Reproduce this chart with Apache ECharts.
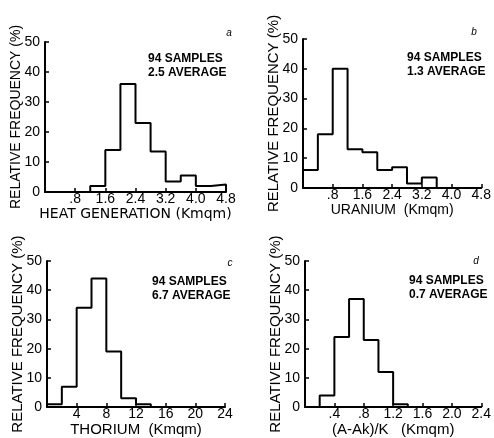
<!DOCTYPE html>
<html>
<head>
<meta charset="utf-8">
<script src="https://cdn.jsdelivr.net/npm/echarts@6/dist/echarts.min.js"></script>
<style>
  html, body { margin: 0; padding: 0; background: #fff; }
  #chart { width: 494px; height: 438px; }
</style>
</head>
<body>
<div id="chart"></div>
<script>
// bin edges and relative frequencies (%) for each panel
const heatEdges = [1.2, 1.6, 2.0, 2.4, 2.8, 3.2, 3.6, 4.0, 4.4, 4.8]
const heatFreq = [2, 14, 36, 23, 13.5, 3.5, 5.5, 2, 2.5]

const uraniumEdges = [0, 0.4, 0.8, 1.2, 1.6, 2.0, 2.4, 2.8, 3.2, 3.6]
const uraniumFreq = [6, 18, 40, 13, 12, 6, 7, 1.5, 3.5]

const thoriumEdges = [0, 2, 4, 6, 8, 10, 12, 14]
const thoriumFreq = [1, 7, 34, 44, 19, 3, 1]

const ratioEdges = [0.2, 0.4, 0.6, 0.8, 1.0, 1.2, 1.4]
const ratioFreq = [4, 24, 37, 23, 12, 1]

// tick labels (the 0 tick carries no label)
const heatTicks = ['', '.8', '1.6', '2.4', '3.2', '4.0', '4.8']
const uraniumTicks = ['', '.8', '1.6', '2.4', '3.2', '4.0', '4.8']
const thoriumTicks = ['', '4', '8', '12', '16', '20', '24']
const ratioTicks = ['', '.4', '.8', '1.2', '1.6', '2.0', '2.4']

const xNames = ['HEAT GENERATION (Kmqm)', 'URANIUM  (Kmqm)', 'THORIUM  (Kmqm)', '(A-Ak)/K   (Kmqm)']
const yName = 'RELATIVE FREQUENCY (%)'
const panelLetters = ['a', 'b', 'c', 'd']
const sampleText = ['94 SAMPLES', '94 SAMPLES', '94 SAMPLES', '94 SAMPLES']
const averageText = ['2.5 AVERAGE', '1.3 AVERAGE', '6.7 AVERAGE', '0.7 AVERAGE']

const FONT = '"Liberation Sans", Arial, sans-serif'
const WIDE = '"DejaVu Sans", sans-serif'

const panels = [
  { edges: heatEdges, freq: heatFreq, ticks: heatTicks, max: 4.8, interval: 0.8,
    grid: { left: 45, top: 42, width: 181, height: 150 },
    nameFont: { fontSize: 14, fontFamily: WIDE }, yNameSize: 14 },
  { edges: uraniumEdges, freq: uraniumFreq, ticks: uraniumTicks, max: 4.8, interval: 0.8,
    grid: { left: 303, top: 39, width: 181, height: 149 },
    nameFont: { fontSize: 14, fontFamily: FONT }, yNameSize: 15 },
  { edges: thoriumEdges, freq: thoriumFreq, ticks: thoriumTicks, max: 24, interval: 4,
    grid: { left: 47, top: 261, width: 178, height: 150 },
    nameFont: { fontSize: 15, fontFamily: FONT }, yNameSize: 15 },
  { edges: ratioEdges, freq: ratioFreq, ticks: ratioTicks, max: 2.4, interval: 0.4,
    grid: { left: 305, top: 261, width: 178, height: 150 },
    nameFont: { fontSize: 15, fontFamily: FONT }, yNameSize: 15 },
]

// where the annotation texts sit (left x, first line y)
const notePos = [[148, 59], [407, 58], [152, 282], [409, 281]]
const letterPos = [[229, 33], [474, 32], [230, 263], [476, 261]]

function stepData(edges, freq) {
  const pts = [[edges[0], 0]]
  freq.forEach((v, i) => pts.push([edges[i], v]))
  pts.push([edges[edges.length - 1], 0])
  return pts
}

const chart = echarts.init(document.getElementById('chart'))

const option = {
  backgroundColor: '#fff',
  animation: false,
  grid: panels.map(p => p.grid),
  xAxis: panels.map((p, i) => ({
    type: 'value',
    gridIndex: i,
    min: 0,
    max: p.max,
    interval: p.interval,
    name: xNames[i],
    nameLocation: 'middle',
    nameGap: 11,
    nameTextStyle: Object.assign({ color: '#000' }, p.nameFont),
    axisLine: { lineStyle: { color: '#000', width: 2 } },
    axisTick: { inside: true, length: 4, lineStyle: { color: '#000', width: 1.5 } },
    axisLabel: {
      color: '#000', fontSize: 14, fontFamily: FONT, margin: 0,
      formatter: (v, idx) => p.ticks[idx] ?? '',
    },
    splitLine: { show: false },
  })),
  yAxis: panels.map((p, i) => ({
    type: 'value',
    gridIndex: i,
    min: 0,
    max: 50,
    interval: 10,
    name: yName,
    nameLocation: 'middle',
    nameRotate: 90,
    nameGap: 22,
    nameMoveOverlap: false,
    nameTextStyle: { color: '#000', fontSize: p.yNameSize, fontFamily: FONT },
    axisLine: { show: true, lineStyle: { color: '#000', width: 2 } },
    axisTick: { show: true, inside: true, length: 4, lineStyle: { color: '#000', width: 1.5 } },
    axisLabel: { color: '#000', fontSize: 14, fontFamily: FONT, margin: 5 },
    splitLine: { show: false },
  })),
  series: panels.map((p, i) => ({
    type: 'line',
    xAxisIndex: i,
    yAxisIndex: i,
    step: 'end',
    showSymbol: false,
    lineStyle: { color: '#000', width: 2 },
    data: stepData(p.edges, p.freq),
  })),
  graphic: [],
}

panels.forEach((p, i) => {
  option.graphic.push({
    type: 'text', x: notePos[i][0], y: notePos[i][1],
    style: { text: sampleText[i], fill: '#000', font: 'bold 12px ' + FONT, verticalAlign: 'middle' },
  })
  option.graphic.push({
    type: 'text', x: notePos[i][0], y: notePos[i][1] + 14,
    style: { text: averageText[i], fill: '#000', font: 'bold 12px ' + FONT, verticalAlign: 'middle' },
  })
  option.graphic.push({
    type: 'text', x: letterPos[i][0], y: letterPos[i][1],
    style: { text: panelLetters[i], fill: '#000', font: 'italic 10px ' + FONT, verticalAlign: 'middle', align: 'center' },
  })
})

chart.setOption(option)
</script>
</body>
</html>
